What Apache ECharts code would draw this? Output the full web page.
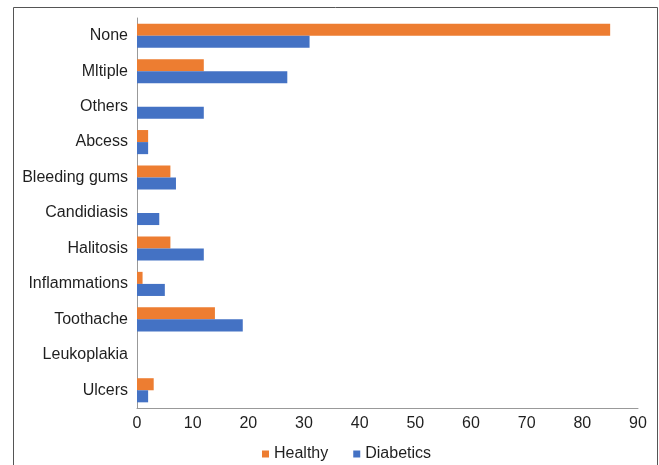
<!DOCTYPE html>
<html>
<head>
<meta charset="utf-8">
<script src="https://cdn.jsdelivr.net/npm/echarts@6/dist/echarts.min.js"></script>
<style>html,body{margin:0;padding:0;background:#fff}#c{width:659px;height:465px}</style>
</head>
<body>
<div id="c"></div>
<script>
const categories = ["None","Mltiple","Others","Abcess","Bleeding gums","Candidiasis","Halitosis","Inflammations","Toothache","Leukoplakia","Ulcers"];
const healthy = [85,12,0,2,6,0,6,1,14,0,3];
const diabetics = [31,27,12,2,7,4,12,5,19,0,2];
const xTicks = [0,10,20,30,40,50,60,70,80,90];

const chart = echarts.init(document.getElementById('c'), null, {renderer:'canvas'});
const font = {fontFamily:'Liberation Sans, Arial, sans-serif', fontSize:16, color:'#1f1f1f'};
chart.setOption({
  animation:false,
  graphic:[{type:'rect', shape:{x:13.5,y:7.5,width:644,height:480}, style:{fill:'none',stroke:'#555',lineWidth:1}, silent:true}],
  grid:{left:137,right:21,top:18,bottom:57,containLabel:false},
  legend:{
    data:['Healthy','Diabetics'], left:257, top:441, icon:'rect', itemWidth:7, itemHeight:7, itemGap:25,
    textStyle:Object.assign({}, font)
  },
  xAxis:{
    type:'value', min:xTicks[0], max:xTicks[xTicks.length-1], interval:10,
    axisLine:{show:true, lineStyle:{color:'#999', width:1}},
    axisTick:{show:false}, splitLine:{show:false},
    axisLabel:Object.assign({}, font, {margin:8})
  },
  yAxis:{
    type:'category', data:categories, inverse:true,
    axisLine:{show:true, lineStyle:{color:'#999', width:1}},
    axisTick:{show:false},
    axisLabel:Object.assign({}, font, {margin:9})
  },
  series:[
    {name:'Healthy', type:'bar', data:healthy, itemStyle:{color:'#ED7D31'}, barGap:'0%', barCategoryGap:'32%'},
    {name:'Diabetics', type:'bar', data:diabetics, itemStyle:{color:'#4472C4'}, barGap:'0%', barCategoryGap:'32%'}
  ]
});
</script>
</body>
</html>
